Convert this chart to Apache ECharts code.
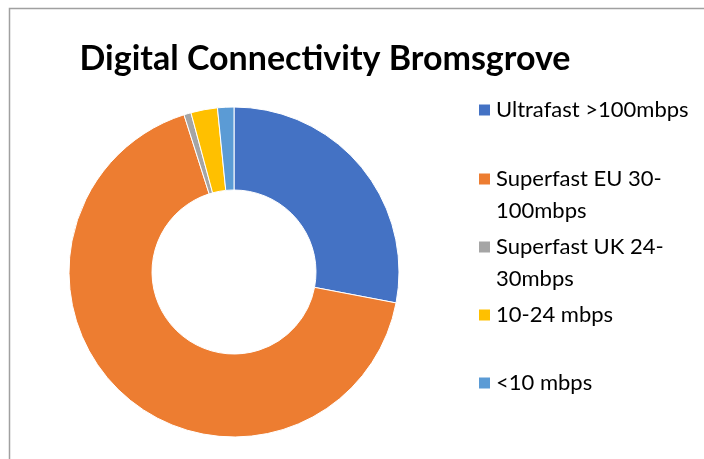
<!DOCTYPE html>
<html>
<head>
<meta charset="utf-8">
<script src="https://cdn.jsdelivr.net/npm/echarts@6/dist/echarts.min.js"></script>
<style>
  html, body { margin: 0; padding: 0; background: #fff; }
  #chart { width: 704px; height: 459px; }
</style>
</head>
<body>
<div id="chart"></div>
<script>
// slices, clockwise from 12 o'clock (percent)
const categories = ['Ultrafast >100mbps', 'Superfast EU 30-100mbps', 'Superfast UK 24-30mbps', '10-24 mbps', '<10 mbps'];
const shares = [28.0, 67.1, 0.7, 2.6, 1.6];
// how the legend wraps each name
const legendLines = [
  ['Ultrafast >100mbps'],
  ['Superfast EU 30-', '100mbps'],
  ['Superfast UK 24-', '30mbps'],
  ['10-24 mbps'],
  ['<10 mbps']
];
const colors = ['#4472C4', '#ED7D31', '#A5A5A5', '#FFC000', '#5B9BD5'];

const FONT = 'Lato';
const LINE = 32;
const legendIconY = [110, 179, 247, 315, 383];

const chart = echarts.init(document.getElementById('chart'));

// one legend per entry so every icon sits beside the first line of its text
const legends = categories.map((name, i) => {
  const lines = legendLines[i];
  const multi = lines.length > 1;
  // a blank leading line keeps the block centred on the icon with line 1 level to it
  const text = multi ? '\n' + lines.join('\n') : lines[0];
  return {
    data: [name],
    orient: 'vertical',
    left: 477,
    top: legendIconY[i] - (multi ? LINE * 1.5 : LINE / 2),
    padding: 0,
    itemWidth: 13,
    itemHeight: 13,
    itemGap: 0,
    icon: 'rect',
    selectedMode: false,
    formatter: () => text,
    textStyle: {
      fontFamily: FONT,
      fontSize: 22,
      color: '#000',
      lineHeight: LINE
    }
  };
});

chart.setOption({
  animation: false,
  color: colors,
  title: {
    text: 'Digital Connectivity Bromsgrove',
    left: 320,
    top: 37,
    textAlign: 'center',
    textStyle: { fontFamily: FONT, fontWeight: 'bold', fontSize: 34, color: '#000' }
  },
  graphic: [{
    type: 'rect',
    shape: { x: 9.5, y: 8.5, width: 720, height: 480 },
    style: { fill: 'none', stroke: '#a0a0a0', lineWidth: 1.5 },
    silent: true
  }],
  legend: legends,
  series: [{
    type: 'pie',
    center: [234, 272],
    radius: [82, 165],
    startAngle: 90,
    clockwise: true,
    label: { show: false },
    labelLine: { show: false },
    itemStyle: { borderColor: '#fff', borderWidth: 1 },
    emphasis: { disabled: true },
    data: categories.map((name, i) => ({ name, value: shares[i] }))
  }]
});
</script>
</body>
</html>
